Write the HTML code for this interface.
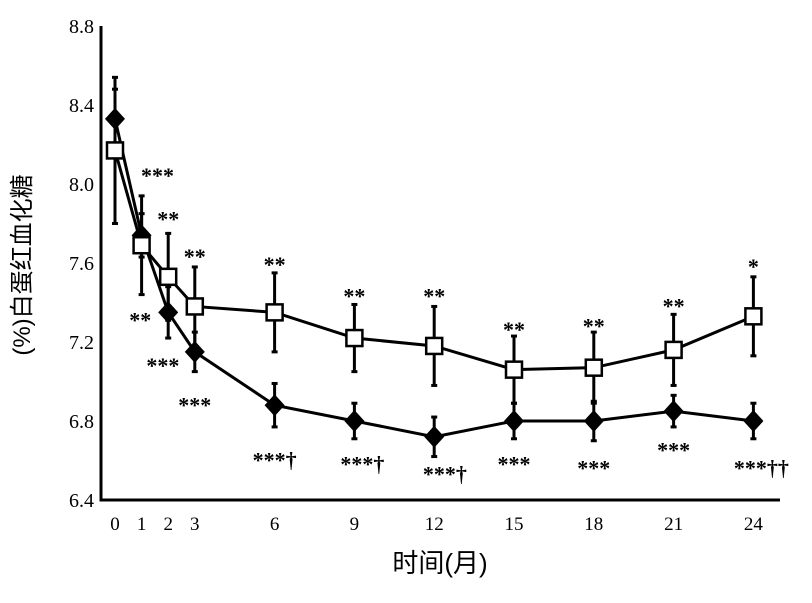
<!DOCTYPE html>
<html><head><meta charset="utf-8"><style>
html,body{margin:0;padding:0;background:#fff;}
svg{display:block;}
text{font-family:"Liberation Serif","Noto Serif CJK SC",serif;fill:#000;}
</style></head><body>
<svg id="chart" width="812" height="603" viewBox="0 0 812 603">
<text x="440" y="572" text-anchor="middle" style="font-family:'Liberation Sans','Noto Sans CJK SC',sans-serif;font-size:26px">时间(月)</text>
<text transform="translate(30,265) rotate(-90)" text-anchor="middle" style="font-family:'Liberation Sans','Noto Sans CJK SC',sans-serif;font-size:24px">(%)白蛋红血化糖</text>
</svg>
<script>
const months=[0,1,2,3,6,9,12,15,18,21,24];
const xTicks=[0,1,2,3,6,9,12,15,18,21,24];
const yTicks=[6.4,6.8,7.2,7.6,8.0,8.4,8.8];
const diamondVals=[8.33,7.74,7.35,7.15,6.88,6.80,6.72,6.80,6.80,6.85,6.80];
const diamondErr=[0.15,0.11,0.13,0.10,0.11,0.09,0.10,0.09,0.10,0.08,0.09];
const squareVals=[8.17,7.69,7.53,7.38,7.35,7.22,7.18,7.06,7.07,7.16,7.33];
const squareErr=[0.37,0.25,0.22,0.20,0.20,0.17,0.20,0.17,0.18,0.18,0.20];
const annMonths=[1.6,0.95,2,1.8,3,3,6,6,9,9.3,12,12.4,15,15,18,18,21,21,24,24.3];
const annVals=[8.06,7.33,7.84,7.10,7.65,6.90,7.61,6.62,7.45,6.60,7.45,6.55,7.28,6.60,7.30,6.58,7.40,6.67,7.60,6.58];
const annText=["***","**","**","***","**","***","**","***†","**","***†","**","***†","**","***","**","***","**","***","*","***††"];
const NS="http://www.w3.org/2000/svg";
const svg=document.getElementById('chart');
function x(m){return 115+m*26.6;}
function y(v){return 500-(v-6.4)*197.5;}
function mk(t,a,p){const e=document.createElementNS(NS,t);for(const k in a)e.setAttribute(k,a[k]);(p||svg).appendChild(e);return e;}
let ax=mk('path',{d:`M101 ${y(8.8)} V500 H780`,fill:'none',stroke:'#000','stroke-width':3});


yTicks.forEach(v=>{const t=mk('text',{x:94,y:y(v)+7,'text-anchor':'end','font-size':20});t.textContent=v.toFixed(1);

});
xTicks.forEach(m=>{const t=mk('text',{x:x(m),y:530,'text-anchor':'middle','font-size':19});t.textContent=m;

});
function series(vals,err,name,shape){
  const g=mk('g',{});
  
  
  vals.forEach((v,i)=>{const cx=x(months[i]);
    mk('line',{x1:cx,x2:cx,y1:y(v+err[i]),y2:y(v-err[i]),stroke:'#000','stroke-width':3},g);
    mk('line',{x1:cx-3,x2:cx+3,y1:y(v+err[i]),y2:y(v+err[i]),stroke:'#000','stroke-width':3},g);
    mk('line',{x1:cx-3,x2:cx+3,y1:y(v-err[i]),y2:y(v-err[i]),stroke:'#000','stroke-width':3},g);});
  mk('polyline',{points:vals.map((v,i)=>x(months[i])+','+y(v)).join(' '),fill:'none',stroke:'#000','stroke-width':3},g);
  vals.forEach((v,i)=>{const cx=x(months[i]),cy=y(v);let m;
    if(shape==='sq')m=mk('rect',{x:cx-8,y:cy-8,width:16,height:16,fill:'#fff',stroke:'#000','stroke-width':2.5},g);
    else m=mk('polygon',{points:`${cx},${cy-11} ${cx+10},${cy} ${cx},${cy+11} ${cx-10},${cy}`,fill:'#000'},g);
    
    });
}
series(diamondVals,diamondErr,'diamond-series','dm');
series(squareVals,squareErr,'square-series','sq');
annText.forEach((s,i)=>{const t=mk('text',{x:x(annMonths[i]),y:y(annVals[i])+11,'text-anchor':'middle','font-size':22,'font-weight':'bold'});t.textContent=s;

});
</script>
</body></html>
